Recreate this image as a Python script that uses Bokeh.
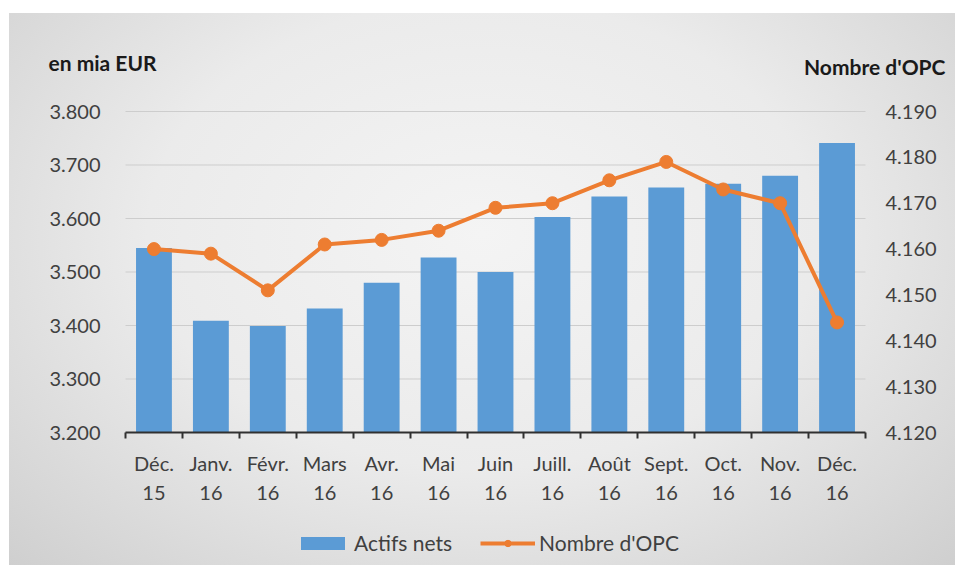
from bokeh.plotting import figure
from bokeh.models import Range1d, LinearAxis, FixedTicker, Legend, LegendItem, Label
from bokeh.embed import file_html
from bokeh.resources import INLINE

# ---- data ----
months = ["Déc.", "Janv.", "Févr.", "Mars", "Avr.", "Mai", "Juin", "Juill.",
          "Août", "Sept.", "Oct.", "Nov.", "Déc."]
years = ["15", "16", "16", "16", "16", "16", "16", "16", "16", "16", "16", "16", "16"]
actifs_nets = [3545, 3409, 3399, 3432, 3480, 3527, 3500, 3603, 3641, 3658, 3665, 3680, 3741]
nombre_opc = [4160, 4159, 4151, 4161, 4162, 4164, 4169, 4170, 4175, 4179, 4173, 4170, 4144]
left_ticks = [3200, 3300, 3400, 3500, 3600, 3700, 3800]
left_tick_labels = ["3.200", "3.300", "3.400", "3.500", "3.600", "3.700", "3.800"]
right_ticks = [4120, 4130, 4140, 4150, 4160, 4170, 4180, 4190]
right_tick_labels = ["4.120", "4.130", "4.140", "4.150", "4.160", "4.170", "4.180", "4.190"]

FONT = "Lato"
TXT = "#404040"
BLUE = "#5b9bd5"
ORANGE = "#ed7d31"

# ---- layout (pixels inside the figure) ----
FIG_W, FIG_H = 946, 552
PLOT_L, PLOT_R, PLOT_T, PLOT_B = 116, 856, 98, 419   # data area of the chart

n = len(months)
centers = [i + 0.5 for i in range(n)]
bounds = list(range(n + 1))

px_x = (PLOT_R - PLOT_L) / n
y0, y1 = left_ticks[0], left_ticks[-1]
r0, r1 = right_ticks[0], right_ticks[-1]
py = (PLOT_B - PLOT_T) / (y1 - y0)
pr = (PLOT_B - PLOT_T) / (r1 - r0)

def x_at(px):
    return (px - PLOT_L) / px_x

def y_at(pyx):
    return y1 + (PLOT_T - pyx) / py

p = figure(width=FIG_W, height=FIG_H, output_backend="svg", toolbar_location=None,
           x_range=Range1d(x_at(0), x_at(FIG_W)),
           y_range=Range1d(y_at(FIG_H), y_at(0)),
           min_border_left=0, min_border_right=0, min_border_top=0, min_border_bottom=0)
p.margin = (13, 0, 0, 9)
p.background_fill_color = None
p.border_fill_color = None
p.outline_line_color = None
p.styles = {"background": "radial-gradient(ellipse at 50% 40%, #f4f4f4 0%, #ebebeb 50%, #cfcfcf 100%)"}

p.extra_y_ranges = {"opc": Range1d(r0 - (FIG_H - PLOT_B) / pr, r1 + PLOT_T / pr)}

# grid lines at the left-axis ticks
p.xgrid.grid_line_color = None
p.ygrid.grid_line_color = None
p.segment(x0=[0] * (len(left_ticks) - 1), x1=[n] * (len(left_ticks) - 1),
          y0=left_ticks[1:], y1=left_ticks[1:], line_color="#cdcdcd", line_width=1)

bars = p.vbar(x=centers, top=actifs_nets, bottom=y0, width=0.63,
              fill_color=BLUE, line_color=None)
line = p.line(x=centers, y=nombre_opc, y_range_name="opc", line_color=ORANGE, line_width=4)
pts = p.scatter(x=centers, y=nombre_opc, y_range_name="opc", size=13,
                fill_color=ORANGE, line_color=ORANGE)

# x axis (first line of labels + boundary ticks)
xa = p.xaxis[0]
xa.fixed_location = y0
xa.bounds = (0, n)
xa.ticker = FixedTicker(ticks=centers, minor_ticks=bounds)
xa.major_label_overrides = {c: m for c, m in zip(centers, months)}
xa.major_tick_line_color = None
xa.major_tick_out = 6
xa.major_tick_in = 0
xa.minor_tick_in = 0
xa.minor_tick_out = 6
xa.minor_tick_line_color = "#303030"
xa.minor_tick_line_width = 2
xa.axis_line_color = "#303030"
xa.axis_line_width = 2
xa.major_label_standoff = 12
xa.major_label_text_font = FONT
xa.major_label_text_font_size = "20px"
xa.major_label_text_color = TXT

# second line of x labels
xa2 = LinearAxis(ticker=FixedTicker(ticks=centers), fixed_location=y0, bounds=(0, n))
xa2.major_label_overrides = {c: y for c, y in zip(centers, years)}
xa2.axis_line_color = None
xa2.major_tick_line_color = None
xa2.minor_tick_line_color = None
xa2.major_tick_out = 6
xa2.major_label_standoff = 47
xa2.major_label_text_font = FONT
xa2.major_label_text_font_size = "20px"
xa2.major_label_text_color = TXT
p.add_layout(xa2, "below")

# left axis
ya = p.yaxis[0]
ya.fixed_location = 0
ya.ticker = FixedTicker(ticks=left_ticks)
ya.major_label_overrides = {t: s for t, s in zip(left_ticks, left_tick_labels)}
ya.axis_line_color = None
ya.major_tick_line_color = None
ya.minor_tick_line_color = None
ya.major_tick_out = 0
ya.major_label_standoff = 25
ya.major_label_text_font = FONT
ya.major_label_text_font_size = "20px"
ya.major_label_text_color = TXT

# right axis
yr = LinearAxis(y_range_name="opc", ticker=FixedTicker(ticks=right_ticks), fixed_location=n)
yr.major_label_overrides = {t: s for t, s in zip(right_ticks, right_tick_labels)}
yr.axis_line_color = None
yr.major_tick_line_color = None
yr.minor_tick_line_color = None
yr.major_tick_out = 0
yr.major_label_standoff = 20
yr.major_label_text_font = FONT
yr.major_label_text_font_size = "20px"
yr.major_label_text_color = TXT
p.add_layout(yr, "right")

# axis titles
p.add_layout(Label(x=x_at(39), y=y_at(49), text="en mia EUR",
                   text_font=FONT, text_font_style="bold",
                   text_font_size="21px", text_color="#1a1a1a", text_baseline="middle",
                   text_align="left"))
p.add_layout(Label(x=x_at(936), y=y_at(53), text="Nombre d'OPC",
                   text_font=FONT, text_font_style="bold",
                   text_font_size="21px", text_color="#1a1a1a", text_baseline="middle",
                   text_align="right"))

legend = Legend(items=[LegendItem(label="Actifs nets", renderers=[bars]),
                       LegendItem(label="Nombre d'OPC", renderers=[line, pts])],
                orientation="horizontal", location=(286, 10),
                background_fill_alpha=0, border_line_color=None, margin=0,
                glyph_width=55, glyph_height=16, label_standoff=4, spacing=28, padding=0,
                label_text_font=FONT, label_text_font_size="21px", label_text_color=TXT)
p.add_layout(legend)

open("out.html", "w").write(file_html(p, INLINE))
